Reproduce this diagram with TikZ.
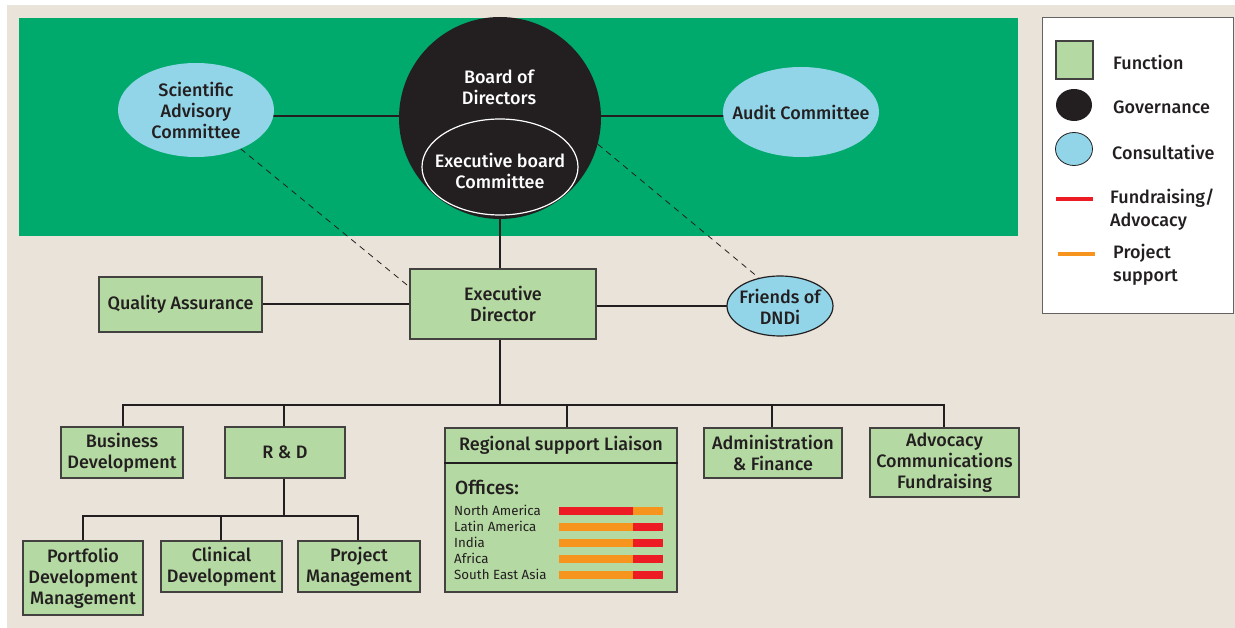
\documentclass[tikz,border=0pt]{standalone}
\usepackage{fontspec}
\setmainfont{Fira Sans}[UprightFont={* Medium}]
\newfontfamily\regfont{Fira Sans}
\usetikzlibrary{shapes.geometric,calc}
\definecolor{bgbeige}{HTML}{EAE3D9}
\definecolor{dgreen}{HTML}{00A96C}
\definecolor{fgreen}{HTML}{B5D9A2}
\definecolor{lblue}{HTML}{93D5E8}
\definecolor{ink}{HTML}{231F20}
\definecolor{fred}{HTML}{ED1C24}
\definecolor{porange}{HTML}{F7941D}
\pgfdeclarelayer{bg}\pgfdeclarelayer{lines}\pgfsetlayers{bg,lines,main}
\begin{document}
\begin{tikzpicture}[x=1pt,y=-1pt,
  txt/.style={font=\fontsize{18}{21}\selectfont,text=ink,align=center,inner sep=0pt},
  func/.style={rectangle,draw=ink!85,line width=1.3pt,fill=fgreen,inner sep=0pt,txt},
  cons/.style={ellipse,fill=lblue,inner sep=0pt},
  conn/.style={draw=ink,line width=2pt},
  dashline/.style={draw=ink,line width=0.8pt,dash pattern=on 6pt off 5pt},
  rowtxt/.style={anchor=west,inner sep=0pt,font=\regfont\fontsize{13.3}{14}\selectfont,text=ink},
  bar/.style={rectangle,inner sep=0pt,minimum height=8pt},
  legtxt/.style={anchor=west,inner sep=0pt,align=left,font=\fontsize{18}{23}\selectfont,text=ink}
]
\useasboundingbox (0,0) rectangle (1235,628);
\begin{pgfonlayer}{bg}
  \fill[white] (0,0) rectangle (1235,628);
  \fill[bgbeige] (7,5) rectangle (1235,628);
  \fill[dgreen] (19,18) rectangle (1018,236);
\end{pgfonlayer}

% governance / consultative
\node[circle,fill=ink,minimum size=202pt,inner sep=0pt] (bod) at (500,118) {};
\node[txt,text=white] (bodt) at (499,87) {Board of\\Directors};
\node[ellipse,draw=white,line width=1.2pt,minimum width=156pt,minimum height=96pt,inner sep=0pt] (ebc) at (500,167) {};
\node[txt,text=white] (ebct) at (500,171) {Executive board\\Committee};
\node[cons,minimum width=156pt,minimum height=94pt] (sac) at (196,110) {};
\node[txt] (sact) at (196,110) {Scientific\\Advisory\\Committee};
\node[cons,minimum width=156pt,minimum height=90pt] (audit) at (801,112) {};
\node[txt] (auditt) at (801,112) {Audit Committee};

% functions
\node[func,minimum width=186pt,minimum height=70pt] (ed) at (503,304) {Executive\\Director};
\node[func,minimum width=163pt,minimum height=55pt] (qa) at (180.5,304.5) {Quality Assurance};
\node[cons,draw=ink,line width=1.2pt,minimum width=106pt,minimum height=60pt] (fod) at (780,306) {};
\node[txt] (fodt) at (780,307) {Friends of\\DNDi};

\node[func,minimum width=122pt,minimum height=51pt] (bd) at (122,452.5) {Business\\Development};
\node[func,minimum width=120pt,minimum height=51pt] (rd) at (285,452.5) {R \& D};
\node[func,minimum width=232pt,minimum height=164pt] (rsl) at (561,510) {};
\node[txt] (rslt) at (561,445.5) {Regional support Liaison};
\node[func,minimum width=138pt,minimum height=50pt] (af) at (773,453) {Administration\\\& Finance};
\node[func,minimum width=149pt,minimum height=69pt] (adv) at (944.5,462.5) {Advocacy\\Communications\\Fundraising};

\node[func,minimum width=120pt,minimum height=74pt] (pdm) at (83,578) {Portfolio\\Development\\Management};
\node[func,minimum width=121pt,minimum height=51pt] (cd) at (221.5,566.5) {Clinical\\Development};
\node[func,minimum width=122pt,minimum height=51pt] (pm) at (359,566.5) {Project\\Management};

% regional box contents
\draw[ink,line width=1.3pt] (rsl.west |- 0,463) -- (rsl.east |- 0,463);
\node[anchor=west,inner sep=0pt,font=\fontsize{19}{21}\selectfont,text=ink] (off) at (455,487) {Offices:};
\node[rowtxt] (r1) at (454,510) {North America};
\node[rowtxt] (r2) at (454,526) {Latin America};
\node[rowtxt] (r3) at (454,542) {India};
\node[rowtxt] (r4) at (454,558) {Africa};
\node[rowtxt] (r5) at (454,574) {South East Asia};
\node[bar,fill=fred,minimum width=74pt] (b1a) at (596,511) {};
\node[bar,fill=porange,minimum width=30pt] (b1b) at (648,511) {};
\node[bar,fill=porange,minimum width=74pt] (b2a) at (596,527) {};
\node[bar,fill=fred,minimum width=30pt] (b2b) at (648,527) {};
\node[bar,fill=porange,minimum width=74pt] (b3a) at (596,543) {};
\node[bar,fill=fred,minimum width=30pt] (b3b) at (648,543) {};
\node[bar,fill=porange,minimum width=74pt] (b4a) at (596,559) {};
\node[bar,fill=fred,minimum width=30pt] (b4b) at (648,559) {};
\node[bar,fill=porange,minimum width=74pt] (b5a) at (596,575) {};
\node[bar,fill=fred,minimum width=30pt] (b5b) at (648,575) {};

% connectors
\begin{pgfonlayer}{lines}
  \coordinate (busL) at (123,405);
  \coordinate (busR) at (944,405);
  \coordinate (rdbus) at (284,516);
  \draw[conn] (bod.west |- 0,116) -- (sac.center |- 0,116);
  \draw[conn] (bod.east |- 0,116) -- (audit.center |- 0,116);
  \draw[conn] (bod.south) -- (ed.north -| bod.south);
  \draw[conn] (qa.east) -- (qa.east -| ed.west);
  \draw[conn] (ed.east |- fod.center) -- (fod.center);
  \draw[conn] (ed.south -| bod.south) -- (bod.south |- busL);
  \draw[conn] (bd.north -| busL) |- (busR) -- (adv.north -| busR);
  \draw[conn] (rd.north -| 284,0) -- (284,405);
  \draw[conn] (rsl.north -| 567,0) -- (567,405);
  \draw[conn] (af.north -| 772,0) -- (772,405);
  \draw[conn] (rd.south -| rdbus) -- (rdbus);
  \draw[conn] (pdm.north -| 83,0) |- (rdbus) -| (pm.north -| 358,0);
  \draw[conn] (cd.north -| 221,0) -- (221,516);
  \draw[dashline] (sac.-41) -- ($(ed.north west)!0.26!(ed.south west)$);
  \draw[dashline] (bod.-15) -- (fod.127);
\end{pgfonlayer}

% legend
\node[rectangle,draw=ink!70,line width=1pt,fill=white,minimum width=191pt,minimum height=296pt,inner sep=0pt] (leg) at (1137.5,166) {};
\node[rectangle,draw=ink!85,line width=1.2pt,fill=fgreen,minimum width=37pt,minimum height=38pt,inner sep=0pt] (lf) at (1074.5,60) {};
\node[legtxt] (lft) at (1113,62) {Function};
\node[ellipse,fill=ink,minimum width=36pt,minimum height=32pt,inner sep=0pt] (lg) at (1074,105) {};
\node[legtxt] (lgt) at (1113,107) {Governance};
\node[ellipse,fill=lblue,draw=ink,line width=0.8pt,minimum width=37pt,minimum height=33pt,inner sep=0pt] (lc) at (1074,149) {};
\node[legtxt] (lct) at (1112,152) {Consultative};
\coordinate (lr1) at (1056,199); \coordinate (lr2) at (1093,199);
\draw[fred,line width=4pt] (lr1) -- (lr2);
\node[legtxt] (lrt) at (1110,210) {Fundraising/\\Advocacy};
\coordinate (lo1) at (1058,254); \coordinate (lo2) at (1095,254);
\draw[porange,line width=4pt] (lo1) -- (lo2);
\node[legtxt] (lot) at (1113,265) {Project\\support};
\end{tikzpicture}
\end{document}
